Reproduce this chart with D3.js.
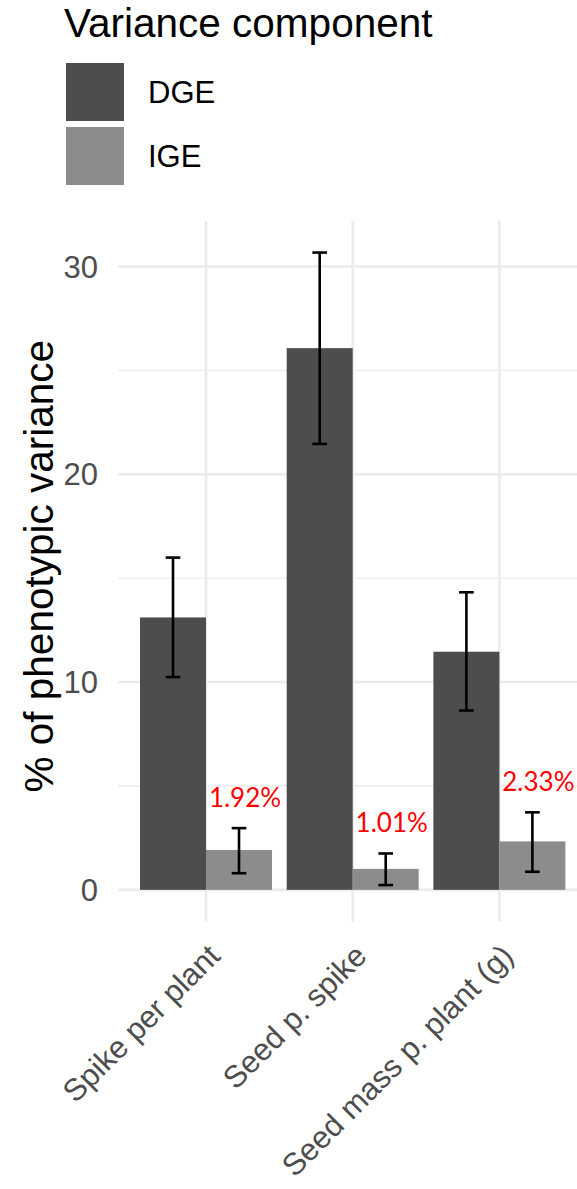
<!DOCTYPE html>
<html>
<head>
<meta charset="utf-8">
<script src="https://cdn.jsdelivr.net/npm/d3@7"></script>
<style>
  html, body { margin: 0; padding: 0; background: #fff; }
  svg { display: block; }
</style>
</head>
<body>
<script>
// Traits and variance components (% of phenotypic variance)
const categories = ["Spike per plant", "Seed p. spike", "Seed mass p. plant (g)"];
const components = ["DGE", "IGE"];
const dgeValues = [13.11, 26.07, 11.46];
const dgeLower  = [10.24, 21.46, 8.63];
const dgeUpper  = [15.99, 30.67, 14.32];
const igeValues = [1.92, 1.01, 2.33];
const igeLower  = [0.80, 0.23, 0.87];
const igeUpper  = [2.97, 1.75, 3.73];
const igeLabels = ["1.92%", "1.01%", "2.33%"];
const yMajorTicks = [0, 10, 20, 30];
const yMinorTicks = [5, 15, 25];

const W = 577, H = 1189;
const fillColor = { DGE: "#4d4d4d", IGE: "#8c8c8c" };
const gridColor = "#ebebeb";
const FONT = "'Liberation Sans', Arial, sans-serif";

const svg = d3.select("body").append("svg")
  .attr("width", W).attr("height", H);

// Panel area
const panel = { left: 118, right: 587.4, top: 220.7, bottom: 921.7 };

const x = d3.scalePoint()
  .domain(categories)
  .range([panel.left, panel.right])
  .padding(0.6);
const step = x.step();

// y domain with 5% expansion around the data extent
const yMax = d3.max(dgeUpper.concat(igeUpper));
const span = yMax - 0;
const y = d3.scaleLinear()
  .domain([0 - 0.05 * span, yMax + 0.05 * span])
  .range([panel.bottom, panel.top]);

// Grid
const grid = svg.append("g");
grid.selectAll("line.minor").data(yMinorTicks).join("line")
  .attr("x1", panel.left).attr("x2", W)
  .attr("y1", d => y(d)).attr("y2", d => y(d))
  .attr("stroke", gridColor).attr("stroke-width", 1.4);
grid.selectAll("line.major").data(yMajorTicks).join("line")
  .attr("x1", panel.left).attr("x2", W)
  .attr("y1", d => y(d)).attr("y2", d => y(d))
  .attr("stroke", gridColor).attr("stroke-width", 2.6);
grid.selectAll("line.vert").data(categories).join("line")
  .attr("x1", d => x(d)).attr("x2", d => x(d))
  .attr("y1", panel.top).attr("y2", panel.bottom)
  .attr("stroke", gridColor).attr("stroke-width", 2.6);

// Bars
const rows = categories.map((c, i) => ({
  cat: c,
  DGE: { v: dgeValues[i], lo: dgeLower[i], hi: dgeUpper[i] },
  IGE: { v: igeValues[i], lo: igeLower[i], hi: igeUpper[i], label: igeLabels[i] }
}));
const barW = 0.45 * step;
const offset = { DGE: -barW, IGE: 0 };

const bars = svg.append("g");
components.forEach(comp => {
  bars.selectAll("rect." + comp).data(rows).join("rect")
    .attr("class", comp)
    .attr("x", d => x(d.cat) + offset[comp])
    .attr("width", barW)
    .attr("y", d => y(d[comp].v))
    .attr("height", d => y(0) - y(d[comp].v))
    .attr("fill", fillColor[comp]);
});

// Error bars
const capW = 0.1 * step;
const eb = svg.append("g").attr("stroke", "#000").attr("stroke-width", 2.6).attr("fill", "none");
components.forEach(comp => {
  rows.forEach(d => {
    const cx = x(d.cat) + offset[comp] + barW / 2;
    const lo = y(d[comp].lo), hi = y(d[comp].hi);
    eb.append("line").attr("x1", cx).attr("x2", cx).attr("y1", lo).attr("y2", hi);
    eb.append("line").attr("x1", cx - capW / 2).attr("x2", cx + capW / 2).attr("y1", lo).attr("y2", lo);
    eb.append("line").attr("x1", cx - capW / 2).attr("x2", cx + capW / 2).attr("y1", hi).attr("y2", hi);
  });
});

// IGE value labels
svg.append("g").selectAll("text").data(rows).join("text")
  .attr("x", d => x(d.cat) + barW / 2 + 6)
  .attr("y", d => y(d.IGE.hi) - 21)
  .attr("text-anchor", "middle")
  .attr("fill", "#ff0000")
  .style("font-family", "Lato, 'Open Sans', sans-serif")
  .style("font-size", "26px")
  .text(d => d.IGE.label);

// Y axis tick labels
svg.append("g").selectAll("text").data(yMajorTicks).join("text")
  .attr("x", 98)
  .attr("y", d => y(d))
  .attr("dy", "0.36em")
  .attr("text-anchor", "end")
  .attr("fill", "#4d4d4d")
  .style("font-family", FONT)
  .style("font-size", "31px")
  .text(d => d);

// X axis tick labels, rotated 45 degrees
svg.append("g").selectAll("text").data(categories).join("text")
  .attr("transform", d => `translate(${x(d)},942) rotate(-45)`)
  .attr("dy", "0.72em")
  .attr("text-anchor", "end")
  .attr("fill", "#4d4d4d")
  .style("font-family", FONT)
  .style("font-size", "31px")
  .text(d => d);

// Y axis title
svg.append("text")
  .attr("transform", `translate(53,${(panel.top + panel.bottom) / 2 - 5}) rotate(-90)`)
  .attr("text-anchor", "middle")
  .attr("fill", "#000")
  .style("font-family", FONT)
  .style("font-size", "40.5px")
  .text("% of phenotypic variance");

// Legend
const legend = svg.append("g");
legend.append("text")
  .attr("x", 64).attr("y", 37)
  .attr("fill", "#000")
  .style("font-family", FONT)
  .style("font-size", "40.5px")
  .text("Variance component");
const keyTop = [63, 127];
components.forEach((comp, i) => {
  legend.append("rect")
    .attr("x", 66).attr("y", keyTop[i])
    .attr("width", 58).attr("height", 58)
    .attr("fill", fillColor[comp]);
  legend.append("text")
    .attr("x", 148).attr("y", keyTop[i] + 29)
    .attr("dy", "0.36em")
    .attr("fill", "#000")
    .style("font-family", FONT)
    .style("font-size", "31px")
    .text(comp);
});
</script>
</body>
</html>
